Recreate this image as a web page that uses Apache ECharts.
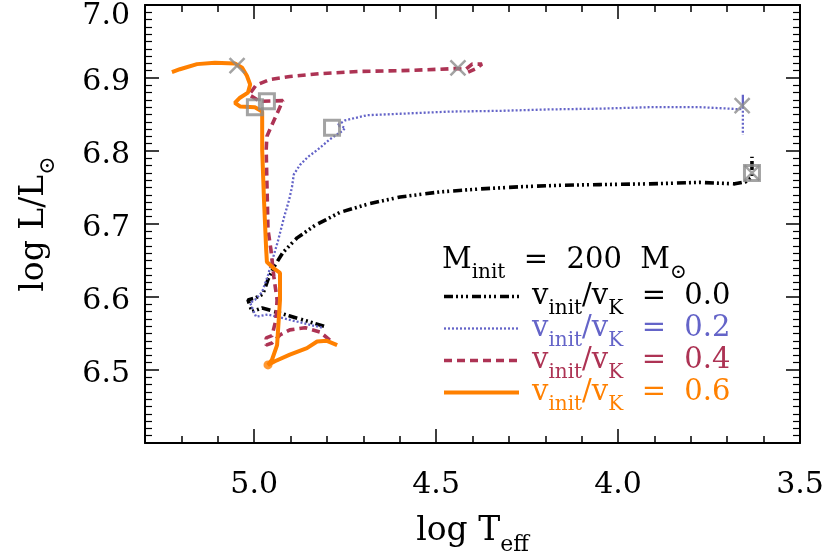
<!DOCTYPE html>
<html><head><meta charset="utf-8">
<script src="https://cdn.jsdelivr.net/npm/echarts@6/dist/echarts.min.js"></script>
<style>html,body{margin:0;padding:0;background:#fff}#c{width:830px;height:554px}</style>
</head><body><div id="c"></div>
<script>
// ---- data (log Teff, log L/Lsun) ----
const xMajorTicks = [5.0, 4.5, 4.0, 3.5];
const yTickLabels = [6.5, 6.6, 6.7, 6.8, 6.9, 7.0];
const rotRates = ['0.0', '0.2', '0.4', '0.6'];
const trackNames = ['v00', 'v02', 'v04', 'v06'];
const trackColors = ['#000000', '#6464c8', '#ad3354', '#ff8000'];

const v00_T = [4.808,4.902,4.978,5.006,5.017,4.995,4.976,4.962,4.946,4.921,4.882,4.833,4.764,4.682,4.599,4.489,4.379,4.270,4.160,4.050,3.912,3.775,3.679,3.649,3.632,3.632,3.632];
const v00_L = [6.560,6.574,6.585,6.580,6.596,6.599,6.604,6.624,6.641,6.661,6.681,6.698,6.716,6.728,6.737,6.744,6.748,6.751,6.753,6.754,6.755,6.757,6.755,6.758,6.764,6.777,6.792];

const v02_T = [4.814,4.888,4.962,4.995,5.011,4.998,4.978,4.962,4.948,4.935,4.918,4.904,4.896,4.891,4.874,4.852,4.825,4.792,4.756,4.750,4.772,4.750,4.690,4.599,4.462,4.324,4.187,4.050,3.912,3.775,3.692,3.665,3.657,3.657,3.657];
const v02_L = [6.558,6.567,6.576,6.573,6.592,6.596,6.607,6.630,6.654,6.676,6.709,6.733,6.751,6.768,6.781,6.792,6.802,6.816,6.828,6.832,6.835,6.842,6.849,6.851,6.854,6.855,6.857,6.858,6.860,6.860,6.858,6.857,6.862,6.877,6.822];

const v04_T = [4.792,4.819,4.860,4.902,4.929,4.951,4.967,4.967,4.951,4.940,4.937,4.946,4.954,4.962,4.965,4.967,4.965,4.951,4.921,4.984,5.014,4.995,4.957,4.902,4.819,4.709,4.599,4.489,4.448,4.418,4.401,4.374,4.390,4.412];
const v04_L = [6.541,6.552,6.558,6.555,6.548,6.537,6.534,6.544,6.547,6.569,6.596,6.628,6.665,6.692,6.757,6.802,6.820,6.836,6.869,6.868,6.877,6.890,6.898,6.902,6.906,6.909,6.910,6.912,6.913,6.912,6.919,6.919,6.913,6.908];

const v06_T = [4.772,4.800,4.827,4.855,4.902,4.943,4.962,4.951,4.937,4.929,4.929,4.948,4.965,4.967,4.973,4.978,4.978,4.978,4.998,5.039,5.053,5.039,5.017,5.011,5.020,5.033,5.053,5.108,5.157,5.204,5.226];
const v06_L = [6.534,6.540,6.539,6.530,6.521,6.512,6.507,6.514,6.534,6.596,6.633,6.640,6.648,6.665,6.733,6.802,6.839,6.854,6.860,6.861,6.866,6.873,6.880,6.891,6.903,6.914,6.920,6.921,6.919,6.912,6.908];

const cross_T = [3.632, 3.659, 4.440, 5.047];
const cross_L = [6.770, 6.862, 6.914, 6.917];
const square_T = [3.632, 4.786, 4.965, 4.998];
const square_L = [6.770, 6.832, 6.868, 6.860];
const dot_T = [4.962];
const dot_L = [6.507];

// ---- build ----
const zip = (a, b) => a.map((v, i) => [v, b[i]]);
const tracks = [zip(v00_T, v00_L), zip(v02_T, v02_L), zip(v04_T, v04_L), zip(v06_T, v06_L)];
const styles = [
  {width: 3.6, type: [9, 3, 2, 3, 2, 3, 2, 4]},
  {width: 2.3, type: [2, 2]},
  {width: 3.6, type: [8, 5]},
  {width: 4, type: 'solid'}
];
const FONT = 'DejaVu Serif';
const chart = echarts.init(document.getElementById('c'), null, {renderer: 'canvas'});

const baseX = {type: 'value', min: 3.5, max: 5.3, inverse: true, splitLine: {show: false}, gridIndex: 0};
const baseY = {type: 'value', min: 6.4, max: 7.0, interval: 0.1, splitLine: {show: false}};
const lineBlack = {show: true, lineStyle: {color: '#000', width: 2}};
const isMajor = v => Math.abs(v * 2 - Math.round(v * 2)) < 1e-6;

const series = tracks.map((d, i) => ({
  name: trackNames[i], type: 'line', data: d, symbol: 'none', showSymbol: false,
  xAxisIndex: 0, yAxisIndex: 0, z: 2 + i,
  lineStyle: {color: trackColors[i], width: styles[i].width, type: styles[i].type, cap: 'butt'},
  itemStyle: {color: trackColors[i]}, animation: false
}));
series.push({
  name: 'dot', type: 'scatter', data: zip(dot_T, dot_L), symbol: 'circle', symbolSize: 9,
  itemStyle: {color: '#ff8000'}, z: 7, animation: false
});
series.push({
  name: 'cross', type: 'scatter', data: zip(cross_T, cross_L),
  symbol: 'path://M0,0L10,10M10,0L0,10', symbolSize: 15,
  itemStyle: {color: 'rgba(0,0,0,0)', borderColor: '#8c8c8c', borderWidth: 2.5}, z: 8, animation: false
});
series.push({
  name: 'square', type: 'scatter', data: zip(square_T, square_L),
  symbol: 'rect', symbolSize: 15,
  itemStyle: {color: 'rgba(0,0,0,0)', borderColor: '#8c8c8c', borderWidth: 3}, z: 8, animation: false
});

const richMain = fs => ({
  v: {fontFamily: FONT, fontSize: fs, fontWeight: 'normal'},
  s: {fontFamily: FONT, fontSize: Math.round(fs * 0.68), fontWeight: 'normal', padding: [Math.round(fs * 0.85), 0, 0, 0]}
});

chart.setOption({
  animation: false,
  grid: {left: 145, right: 30, top: 5, bottom: 111, containLabel: false, outerBoundsMode: 'none'},
  title: {
    left: 437, top: 233,
    text: '{v|M}{s|init}{v|  =  200  M}{s|⊙}',
    textStyle: {color: '#000', fontWeight: 'normal', rich: richMain(29)}
  },
  legend: {
    left: 437, top: 276, orient: 'vertical', itemGap: -6, itemWidth: 75, itemHeight: 12,
    selectedMode: false,
    itemStyle: {opacity: 0},
    data: trackNames.map((n, i) => ({
      name: n, textStyle: {color: trackColors[i]},
      itemStyle: {opacity: 0},
      lineStyle: {width: styles[i].width, type: styles[i].type, color: trackColors[i]}
    })),
    formatter: name => {
      const i = trackNames.indexOf(name);
      return '{p|}{v|v}{s|init}{v|/v}{s|K}{v|  =  ' + rotRates[i] + '}';
    },
    textStyle: {
      lineHeight: 31,
      rich: Object.assign({p: {width: 8}}, richMain(29))
    }
  },
  xAxis: [
    Object.assign({}, baseX, {
      position: 'bottom', interval: 0.1, axisLine: lineBlack,
      axisTick: {show: true, inside: true, length: 7, lineStyle: {color: '#000', width: 1.5}},
      axisLabel: {
        show: true, margin: 27, fontFamily: FONT, fontSize: 30, color: '#000',
        showMaxLabel: false,
        formatter: v => (isMajor(v) && xMajorTicks.some(t => Math.abs(t - v) < 1e-6)) ? v.toFixed(1) : ''
      },
      name: '{v|log T}{s|eff}', nameLocation: 'middle', nameGap: 63,
      nameTextStyle: {color: '#000', rich: richMain(33)}
    }),
    Object.assign({}, baseX, {
      position: 'bottom', axisLine: {show: false},
      axisTick: {show: true, inside: true, length: 14, customValues: xMajorTicks, lineStyle: {color: '#000', width: 1.5}},
      axisLabel: {show: false}
    }),
    Object.assign({}, baseX, {
      position: 'top', interval: 0.1, axisLine: lineBlack,
      axisTick: {show: true, inside: true, length: 7, lineStyle: {color: '#000', width: 1.5}},
      axisLabel: {show: false}
    }),
    Object.assign({}, baseX, {
      position: 'top', axisLine: {show: false},
      axisTick: {show: true, inside: true, length: 14, customValues: xMajorTicks, lineStyle: {color: '#000', width: 1.5}},
      axisLabel: {show: false}
    })
  ],
  yAxis: [
    Object.assign({}, baseY, {
      position: 'left', axisLine: lineBlack,
      axisTick: {show: true, inside: true, length: 14, lineStyle: {color: '#000', width: 1.5}},
      minorTick: {show: true, splitNumber: 10, length: 7, lineStyle: {color: '#000', width: 1.2}},
      axisLabel: {
        show: true, margin: 15, showMinLabel: false, color: '#000',
        formatter: v => {
          const f = yTickLabels.find(t => Math.abs(t - v) < 1e-6);
          if (f === undefined) return '';
          return (Math.abs(f - 7.0) < 1e-6 ? '{t|' : '{n|') + f.toFixed(1) + '}';
        },
        rich: {
          n: {fontFamily: FONT, fontSize: 30, padding: [8, 0, 0, 0]},
          t: {fontFamily: FONT, fontSize: 30, padding: [22, 0, 0, 0]}
        }
      },
      name: '{v|log L/L}{s|⊙}', nameLocation: 'middle', nameGap: 86, nameRotate: 90,
      nameTextStyle: {color: '#000', rich: richMain(33)}
    }),
    Object.assign({}, baseY, {
      position: 'right', axisLine: lineBlack,
      axisTick: {show: true, inside: true, length: 14, lineStyle: {color: '#000', width: 1.5}},
      minorTick: {show: true, splitNumber: 10, length: 7, lineStyle: {color: '#000', width: 1.2}},
      axisLabel: {show: false}
    })
  ],
  series: series
});
</script></body></html>
